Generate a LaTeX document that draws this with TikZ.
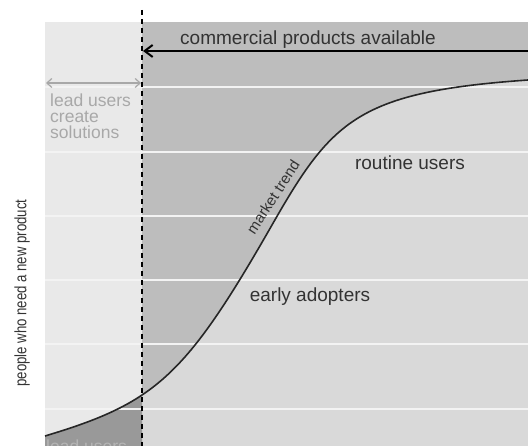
\documentclass[tikz,border=0pt]{standalone}
\usepackage{fontspec}
\setmainfont{Liberation Sans}
\usetikzlibrary{arrows.meta}
\definecolor{leftband}{HTML}{E9E9E9}
\definecolor{aboveband}{HTML}{BDBDBD}
\definecolor{belowband}{HTML}{D9D9D9}
\definecolor{leadfill}{HTML}{999999}
\definecolor{gridline}{HTML}{F3F3F3}
\definecolor{labeltext}{HTML}{333333}
\definecolor{softtext}{HTML}{A8A8A8}
\tikzset{
  grid rule/.style={draw=gridline, line width=2pt},
  trend line/.style={draw=black!85, line width=1.6pt},
  launch line/.style={draw=black, line width=2pt, dash pattern=on 5pt off 4pt},
  main label/.style={text=labeltext, font=\fontsize{19}{19}\selectfont, inner sep=0pt},
  soft label/.style={text=softtext, font=\fontsize{17.5}{16}\selectfont, inner sep=0pt, align=left},
  narrow label/.style={text=labeltext, inner sep=0pt}
}
% S-shaped adoption curve, two cubic pieces meeting at the inflection point
\newcommand{\trendcurve}{(45,436) .. controls (155,403) and (185,377.25) .. (272,225) .. controls (332,120) and (358,91.9) .. (528,80)}
\begin{document}
\begin{tikzpicture}[x=1pt, y=-1pt]
  \useasboundingbox (0,0) rectangle (528,446);
  \clip (0,0) rectangle (528,446);
  % background bands
  \fill[leftband] (45,22) rectangle (142,446);
  \fill[aboveband] (142,22) rectangle (528,446);
  \fill[belowband] \trendcurve -- (528,446) -- (45,446) -- cycle;
  \begin{scope}
    \clip (45,22) rectangle (142,446);
    \fill[leadfill] \trendcurve -- (528,446) -- (45,446) -- cycle;
  \end{scope}
  % horizontal rules
  \foreach \yy in {87,152,216,280,344,409}
    \draw[grid rule] (45,\yy) -- (528,\yy);
  % adoption curve
  \draw[trend line] \trendcurve;
  % launch boundary
  \coordinate (launchtop) at (142,10);
  \coordinate (launchbottom) at (142,446);
  \draw[launch line] (launchtop) -- (launchbottom);
  % commercial availability arrow
  \coordinate (commercialstart) at (528,51);
  \coordinate (commercialend) at (143,51);
  \draw[line width=2pt, -{Straight Barb[length=8pt,width=12pt,line width=2pt]}] (commercialstart) -- (commercialend);
  \node[main label] (commercial) at (308,40) {commercial products available};
  % lead user span
  \coordinate (leadleft) at (46,83);
  \coordinate (leadright) at (141,83);
  \draw[softtext, line width=1.2pt, {Straight Barb[length=5pt,width=9pt]}-{Straight Barb[length=5pt,width=9pt]}] (leadleft) -- (leadright);
  \node[soft label, anchor=north west] (leadcreate) at (50,94) {lead users\\create\\solutions};
  % group labels
  \node[main label] (routine) at (410,163) {routine users};
  \node[main label] (early) at (310,297) {early adopters};
  \node[narrow label, rotate=57, font=\fontsize{15}{15}\selectfont] (trendlabel) at (273,197) {market trend};
  \node[soft label, text=softtext!85!white, anchor=base west] (leadbottom) at (46,453) {lead users};
  % axis label
  \node[narrow label, rotate=90] (axis) at (22,293) {\fontsize{16.5}{16.5}\selectfont\scalebox{0.8}[1]{people who need a new product}};
\end{tikzpicture}
\end{document}
